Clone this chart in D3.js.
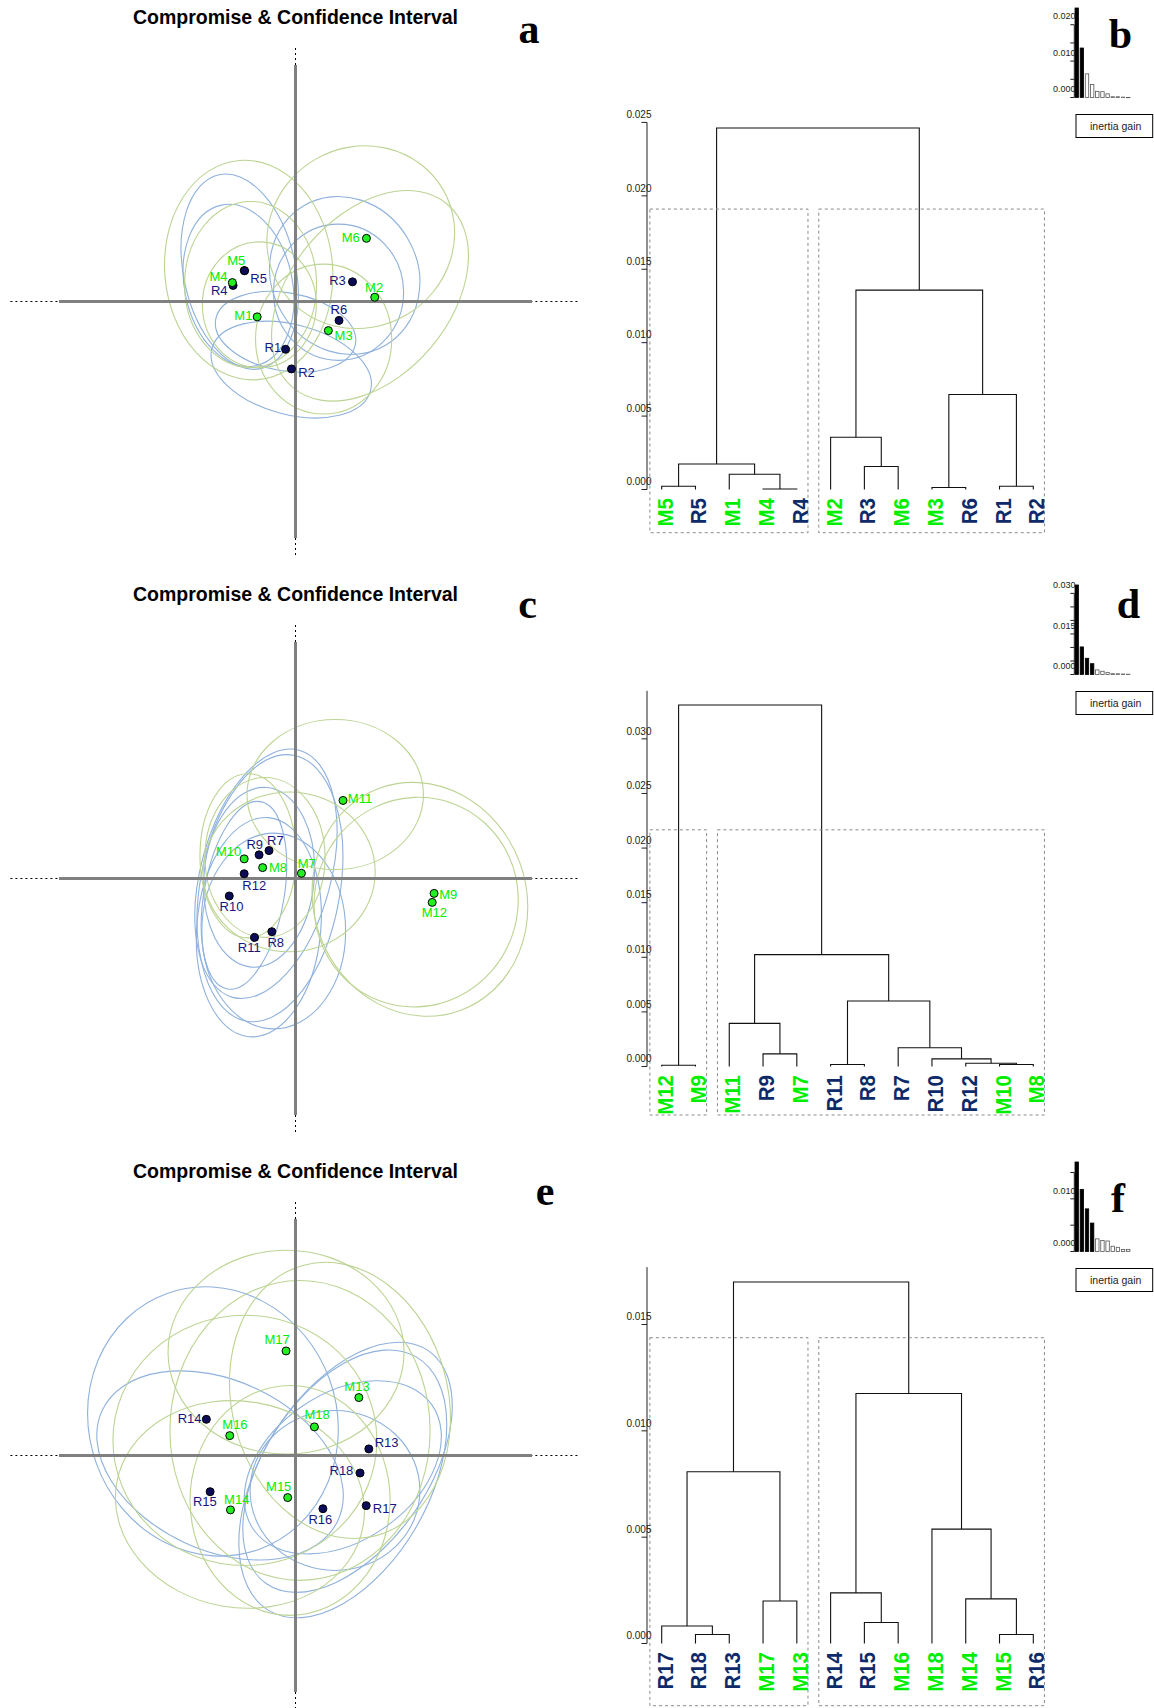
<!DOCTYPE html>
<html><head><meta charset="utf-8">
<script src="https://cdn.jsdelivr.net/npm/d3@7"></script>
<style>body{margin:0;background:#fff}</style>
</head><body>
<svg id="chart" width="1154" height="1708"></svg>
<script>
// ================= DATA =================
const titleText = "Compromise & Confidence Interval";
const panelLetters = ["a", "b", "c", "d", "e", "f"];
const legendText = "inertia gain";

// ---- scatter a (compromise coordinates, axis range -1..1) ----
const aNames = ["M5","R1","R2","R3","R4","R5","R6","M1","M2","M3","M4","M6"];
const aX = [-0.217,-0.042,-0.017,0.241,-0.264,-0.215,0.184,-0.162,0.335,0.139,-0.267,0.300];
const aY = [ 0.131,-0.202,-0.285,0.083, 0.068, 0.130,-0.080,-0.065,0.018,-0.123,0.080,0.267];
// confidence ellipses: name, cx, cy, rx, ry, rotation(deg)
const aEllipses = [
  ["R1",-0.042,-0.128,0.300,0.165,10],
  ["R2",-0.018,-0.288,0.347,0.190,15],
  ["R3", 0.208, 0.110,0.309,0.342,-30],
  ["R4",-0.241, 0.068,0.228,0.347,-12],
  ["R5",-0.236, 0.126,0.237,0.419,-12],
  ["R6", 0.182, 0.039,0.275,0.288,0],
  ["M1",-0.153,-0.014,0.241,0.266,0],
  ["M2", 0.315, 0.024,0.507,0.338,-50],
  ["M3", 0.119,-0.159,0.288,0.317,0],
  ["M4",-0.190, 0.072,0.279,0.351,0],
  ["M5",-0.198, 0.133,0.355,0.465,-5],
  ["M6", 0.276, 0.272,0.402,0.381,-30]
];

// ---- scatter c ----
const cNames = ["R7","R8","R9","R10","R11","R12","M7","M8","M9","M10","M11","M12"];
const cX = [-0.112,-0.100,-0.154,-0.280,-0.173,-0.217,0.025,-0.139,0.586,-0.217,0.201,0.578];
const cY = [ 0.118,-0.225, 0.100,-0.074,-0.249, 0.020,0.022, 0.046,-0.063,0.083,0.330,-0.101];
const cEllipses = [
  ["R7",-0.108,-0.041,0.296,0.571,10],
  ["R8",-0.092,-0.222,0.304,0.414,0],
  ["R9",-0.125, 0.020,0.275,0.541,15],
  ["R10",-0.218,-0.071,0.169,0.402,10],
  ["R11",-0.155,-0.206,0.262,0.465,5],
  ["R12",-0.154, 0.005,0.233,0.381,5],
  ["M7",-0.027, 0.028,0.364,0.338,0],
  ["M8",-0.129, 0.089,0.254,0.338,0],
  ["M9", 0.526,-0.088,0.450,0.500,-20],
  ["M10",-0.201,0.096,0.203,0.347,0],
  ["M11",0.168, 0.355,0.373,0.317,0],
  ["M12",0.510,-0.100,0.430,0.445,20]
];

// ---- scatter e ----
const eNames = ["R13","R14","R15","R16","R17","R18","M13","M14","M15","M16","M17","M18"];
const eX = [0.310,-0.377,-0.361,0.116,0.299,0.273,0.268,-0.275,-0.033,-0.278,-0.040,0.080];
const eY = [0.028, 0.153,-0.153,-0.225,-0.212,-0.074,0.245,-0.230,-0.178,0.084,0.442,0.121];
const eEllipses = [
  ["R13",0.220,-0.050,0.340,0.600,35],
  ["R14",-0.349,0.144,0.524,0.575,-20],
  ["R15",-0.319,-0.042,0.550,0.359,25],
  ["R16",0.167,-0.148,0.359,0.338,0],
  ["R17",0.200,-0.120,0.360,0.620,30],
  ["R18",0.200,-0.050,0.460,0.310,-35],
  ["M13",0.188,0.233,0.457,0.592,-15],
  ["M14",-0.235,-0.207,0.529,0.436,10],
  ["M15",-0.023,-0.190,0.423,0.486,0],
  ["M16",-0.214,0.064,0.558,0.529,0],
  ["M17",-0.040,0.437,0.499,0.431,0],
  ["M18",0.019,0.106,0.550,0.634,0]
];

// ---- dendrogram b ----
const bLeaves = ["M5","R5","M1","M4","R4","M2","R3","M6","M3","R6","R1","R2"];
const bMerges = [ // [left, right, height]; numbers refer to earlier merges (1-based)
  ["M5","R5",0.000225], ["M4","R4",0.00003], ["M1",2,0.00104], [1,3,0.00174],
  ["R3","M6",0.00157], ["M2",5,0.00356], ["M3","R6",0.000136], ["R1","R2",0.000225],
  [7,8,0.00647], [6,9,0.01358], [4,10,0.02462]
];
const bTicks = [0,0.005,0.010,0.015,0.020,0.025];
const bAxisMax = 0.025;

// ---- dendrogram d ----
const dLeaves = ["M12","M9","M11","R9","M7","R11","R8","R7","R10","R12","M10","M8"];
const dMerges = [
  ["M12","M9",0.00012], ["R9","M7",0.00116], ["M11",2,0.00395], ["R11","R8",0.00018],
  ["M10","M8",0.00018], ["R12",5,0.0003], ["R10",6,0.0007], ["R7",7,0.00171],
  [4,8,0.0060], [3,9,0.01024], [1,10,0.0331]
];
const dTicks = [0,0.005,0.010,0.015,0.020,0.025,0.030];
const dAxisMax = 0.0344;

// ---- dendrogram f ----
const fLeaves = ["R17","R18","R13","M17","M13","R14","R15","M16","M18","M14","M15","R16"];
const fMerges = [
  ["R18","R13",0.00042], ["R17",1,0.00082], ["M17","M13",0.0020], [2,3,0.00808],
  ["R15","M16",0.00099], ["R14",5,0.00238], ["M15","R16",0.00042], ["M14",7,0.0021],
  ["M18",8,0.00538], [6,9,0.01176], [4,10,0.0170]
];
const fTicks = [0,0.005,0.010,0.015];
const fAxisMax = 0.0177;

// ---- inertia gain bar charts ----
const bGain = [0.0246,0.0136,0.0065,0.0036,0.0017,0.0016,0.0010,0.0002,0.0002,0.0001,0.00003];
const dGain = [0.0331,0.0102,0.0060,0.0040,0.0017,0.0012,0.0007,0.0003,0.00027,0.00018,0.00012];
const fGain = [0.0170,0.0118,0.0081,0.0054,0.0024,0.0021,0.0020,0.0010,0.0008,0.0004,0.0004];
const bGainFilled = 2, dGainFilled = 4, fGainFilled = 4;
const bGainTicks = [0,0.005,0.010,0.015,0.020], bGainLabels = [0,0.010,0.020];
const dGainTicks = [0,0.005,0.010,0.015,0.020,0.025,0.030], dGainLabels = [0,0.015,0.030];
const fGainTicks = [0,0.005,0.010,0.015], fGainLabels = [0,0.010];

// ================= LAYOUT / STYLE =================
const PANEL_DY = 577;
const SANS = "'Liberation Sans', Arial, Helvetica, sans-serif";
const SERIF = "'Liberation Serif', 'Times New Roman', serif";
const GREEN = "#00ee00", NAVY_S = "#16167e", NAVY_D = "#0f2a68";
const ELL_BLUE = "#8fb1dc", ELL_GREEN = "#bcd493";

// label placement [anchor, dx, dy] (pixels)
const labA = {M6:["end",-6.7,3.5],M5:["middle",-8,-5.4],R5:["start",5.6,11.8],M4:["end",-4.8,-1.3],
  R4:["end",-5.5,9.3],R3:["end",-6.7,3.5],M2:["middle",-0.6,-5.4],R6:["middle",-0.2,-6.5],
  M1:["end",-4.8,3.5],M3:["start",6.2,9.6],R1:["end",-4.4,2.3],R2:["start",6.7,7.7]};
const labC = {M11:["start",4.8,2.1],R7:["start",-1.9,-5.4],R9:["middle",-4.3,-5.7],M10:["end",-3,-3.3],
  M8:["start",6.3,4.6],M7:["start",-3.7,-5.7],R12:["start",-1.9,16],R10:["middle",2.2,14.6],
  R8:["start",-4.4,15.3],R11:["middle",-5.3,14.3],M9:["start",5.1,5.3],M12:["middle",2.1,14.6]};
const labE = {M17:["middle",-8.9,-7],M13:["middle",-1.9,-6.3],R14:["end",-4.8,3.9],M18:["middle",2.7,-7.7],
  M16:["middle",5.2,-6.3],R13:["start",5.9,-2.3],R18:["end",-6.7,1.7],R15:["middle",-5.3,14.8],
  M15:["middle",-9,-6.6],M14:["middle",6.3,-6.2],R17:["start",6.6,7.8],R16:["middle",-2.6,15.5]};

const letterPos = [[529,43],[1120.5,47.7],[527.5,41],[1128.5,41.3],[545,50.5],[1118,58.3]];
const boxBottoms = [532.7, 538, 551.7];

const svg = d3.select("#chart");
svg.append("rect").attr("width",1154).attr("height",1708).attr("fill","#fff");

const isM = n => n[0] === "M";

function drawScatter(idx, names, xs, ys, ells, lab) {
  const g = svg.append("g").attr("transform", `translate(0,${idx*PANEL_DY})`);
  const CX = 295.5, CY = 301.5, H = 236.5;
  const x = d3.scaleLinear().domain([-1,1]).range([CX-H, CX+H]);
  const y = d3.scaleLinear().domain([-1,1]).range([CY+H, CY-H]);
  const k = x(1) - x(0);

  g.append("text").attr("x",CX).attr("y",23.8).attr("text-anchor","middle")
    .attr("font-family",SANS).attr("font-weight","bold").attr("font-size",19.5).text(titleText);

  // dotted extensions
  g.append("line").attr("x1",10.4).attr("x2",580).attr("y1",y(0)).attr("y2",y(0))
    .attr("stroke","#000").attr("stroke-width",1).attr("stroke-dasharray","2,3");
  g.append("line").attr("x1",x(0)).attr("x2",x(0)).attr("y1",48).attr("y2",555)
    .attr("stroke","#000").attr("stroke-width",1).attr("stroke-dasharray","2,3");

  // ellipses
  g.selectAll("ellipse.ci").data(ells).enter().append("ellipse")
    .attr("transform", d => `translate(${x(d[1])},${y(d[2])}) rotate(${d[5]})`)
    .attr("rx", d => d[3]*k).attr("ry", d => d[4]*k)
    .attr("fill","none").attr("stroke", d => isM(d[0]) ? ELL_GREEN : ELL_BLUE).attr("stroke-width",1.1);

  // solid axes
  g.append("line").attr("x1",x(-1)).attr("x2",x(1)).attr("y1",y(0)).attr("y2",y(0))
    .attr("stroke","#808080").attr("stroke-width",3);
  g.append("line").attr("x1",x(0)).attr("x2",x(0)).attr("y1",y(-1)).attr("y2",y(1))
    .attr("stroke","#808080").attr("stroke-width",3);

  const pts = names.map((n,i) => ({n, x:xs[i], y:ys[i]}));
  g.selectAll("circle.pt").data(pts).enter().append("circle")
    .attr("cx", d => x(d.x)).attr("cy", d => y(d.y)).attr("r",4)
    .attr("fill", d => isM(d.n) ? "#22ee22" : "#0b0b58").attr("stroke","#000").attr("stroke-width",1);

  g.selectAll("text.lab").data(pts).enter().append("text")
    .attr("x", d => x(d.x) + lab[d.n][1]).attr("y", d => y(d.y) + lab[d.n][2])
    .attr("text-anchor", d => lab[d.n][0])
    .attr("font-family",SANS).attr("font-size",13)
    .attr("fill", d => isM(d.n) ? GREEN : NAVY_S).text(d => d.n);
}

function drawDendro(idx, leaves, merges, ticks, axisMax, boxBottom) {
  const g = svg.append("g").attr("transform", `translate(0,${idx*PANEL_DY})`);
  const rootH = merges[merges.length-1][2];
  const x = d3.scalePoint().domain(leaves).range([661.7,1033.3]);
  const y = d3.scaleLinear().domain([0, rootH]).range([489.5, 128]);
  const nodes = [];
  const pos = r => typeof r === "string" ? {x:x(r), h:0, leaves:[r]} : nodes[r-1];
  merges.forEach(([a,b,h]) => {
    const A = pos(a), B = pos(b);
    g.append("path").attr("d", `M${A.x},${y(A.h)}V${y(h)}H${B.x}V${y(B.h)}`)
      .attr("fill","none").attr("stroke","#111").attr("stroke-width",1.1);
    nodes.push({x:(A.x+B.x)/2, h, leaves:A.leaves.concat(B.leaves)});
  });
  // cluster rectangles (cut into 2 groups)
  const heights = merges.map(m => m[2]).sort((p,q) => q-p);
  const top = (heights[0] + heights[1]) / 2;
  const last = merges[merges.length-1];
  const step = x.step();
  [pos(last[0]), pos(last[1])].forEach(c => {
    const xs = c.leaves.map(l => x(l));
    const x0 = d3.min(xs) - 0.35*step, x1 = d3.max(xs) + 0.33*step;
    g.append("rect").attr("x",x0).attr("y",y(top)).attr("width",x1-x0).attr("height",boxBottom-y(top))
      .attr("fill","none").attr("stroke","#8a8a8a").attr("stroke-width",1).attr("stroke-dasharray","3,3");
  });
  // y axis
  g.append("line").attr("x1",647).attr("x2",647).attr("y1",y(0)).attr("y2",y(axisMax))
    .attr("stroke","#222").attr("stroke-width",1);
  ticks.forEach(t => {
    g.append("line").attr("x1",641.5).attr("x2",647).attr("y1",y(t)).attr("y2",y(t))
      .attr("stroke","#222").attr("stroke-width",1);
    g.append("text").attr("x",651.5).attr("y",y(t)-4.3).attr("text-anchor","end")
      .attr("font-family",SANS).attr("font-size",10).attr("fill","#222").text(d3.format(".3f")(t));
  });
  // leaf labels
  leaves.forEach(l => {
    g.append("text").attr("transform", `translate(${x(l)+11},${y(0)+8.5}) rotate(-90) scale(1,1.1)`)
      .attr("text-anchor","end").attr("font-family",SANS).attr("font-weight","bold")
      .attr("font-size",20.5).attr("fill", isM(l) ? GREEN : NAVY_D).text(l);
  });
}

function drawGain(idx, vals, nFilled, ticks, labels) {
  const g = svg.append("g").attr("transform", `translate(0,${idx*PANEL_DY})`);
  const max = d3.max(vals);
  const y = d3.scaleLinear().domain([0,max]).range([97.5, 8]);
  const bx = d3.scaleLinear().domain([0,1]).range([1075, 1080.15]);
  vals.forEach((v,i) => {
    const filled = i < nFilled;
    g.append("rect").attr("x",bx(i)).attr("y",y(v)).attr("width",3.4).attr("height",Math.max(y(0)-y(v),0.3))
      .attr("fill", filled ? "#000" : "#fff").attr("stroke", filled ? "#000" : "#555").attr("stroke-width",0.8);
  });
  g.append("line").attr("x1",1074.3).attr("x2",1074.3).attr("y1",y(0)).attr("y2",y(d3.max(ticks)))
    .attr("stroke","#222").attr("stroke-width",1);
  ticks.forEach(t => g.append("line").attr("x1",1070.3).attr("x2",1074.3).attr("y1",y(t)).attr("y2",y(t))
    .attr("stroke","#222").attr("stroke-width",1));
  labels.forEach(t => g.append("text").attr("x",1075.5).attr("y",y(t)-5.3).attr("text-anchor","end")
    .attr("font-family",SANS).attr("font-size",9).attr("fill","#222").text(d3.format(".3f")(t)));
  g.append("rect").attr("x",1076).attr("y",114.5).attr("width",76.7).attr("height",23)
    .attr("fill","#fff").attr("stroke","#000").attr("stroke-width",1);
  g.append("text").attr("x",1090).attr("y",130).attr("font-family",SANS).attr("font-size",10.5)
    .attr("fill","#222").text(legendText);
}

drawScatter(0, aNames, aX, aY, aEllipses, labA);
drawScatter(1, cNames, cX, cY, cEllipses, labC);
drawScatter(2, eNames, eX, eY, eEllipses, labE);
drawDendro(0, bLeaves, bMerges, bTicks, bAxisMax, boxBottoms[0]);
drawDendro(1, dLeaves, dMerges, dTicks, dAxisMax, boxBottoms[1]);
drawDendro(2, fLeaves, fMerges, fTicks, fAxisMax, boxBottoms[2]);
drawGain(0, bGain, bGainFilled, bGainTicks, bGainLabels);
drawGain(1, dGain, dGainFilled, dGainTicks, dGainLabels);
drawGain(2, fGain, fGainFilled, fGainTicks, fGainLabels);

panelLetters.forEach((L,i) => {
  const row = Math.floor(i/2);
  svg.append("text").attr("x",letterPos[i][0]).attr("y",letterPos[i][1] + row*PANEL_DY)
    .attr("text-anchor","middle").attr("font-family",SERIF).attr("font-weight","bold")
    .attr("font-size",42).text(L);
});
</script>
</body></html>
